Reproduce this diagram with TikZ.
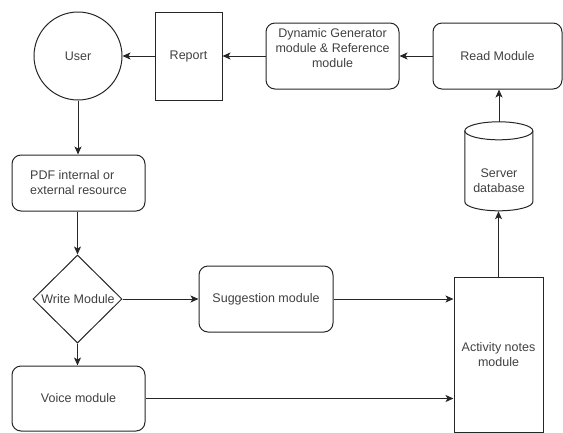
\documentclass[tikz,border=0pt]{standalone}
\usepackage{fontspec}
\setmainfont{Liberation Sans}
\usetikzlibrary{arrows.meta,shapes.geometric}
\begin{document}
\begin{tikzpicture}[x=1pt,y=-1pt,
  every node/.style={font=\fontsize{12.5}{15}\selectfont, text=black!75, inner sep=0pt},
  box/.style={draw=black!85, line width=1pt, rectangle},
  rbox/.style={box, rounded corners=9pt},
  arr/.style={draw=black!85, line width=1pt, -{Stealth[length=8pt,width=7pt,inset=2pt]}},
  ln/.style={draw=black!85, line width=1pt}]
\useasboundingbox (0,0) rectangle (563,432);
\node[draw=black!85, line width=1pt, circle, minimum size=88pt] (user) at (78,56) {User};
\node[box, minimum width=67pt, minimum height=88pt] (report) at (188.5,56) {Report};
\node[rbox, minimum width=133pt, minimum height=66pt] (dyn) at (332.5,56) {};
\node[align=center] (dyntext) at (332.5,48) {Dynamic Generator\\module \& Reference\\module};
\node[rbox, minimum width=129pt, minimum height=66pt] (read) at (497.5,56) {Read Module};
% cylinder
\node[minimum width=68pt, minimum height=89pt] (db) at (499,166.5) {};
\draw[ln, fill=white] (db.north west) ++(0,9) -- ++(0,71) arc[start angle=180, end angle=360, x radius=34, y radius=-9] -- ++(0,-71)
  arc[start angle=0, end angle=180, x radius=34, y radius=-9] -- cycle;
\draw[ln] (db.north west) ++(0,9) arc[start angle=180, end angle=360, x radius=34, y radius=-9];
\node[align=center] (dbtext) at (499,180.5) {Server\\database};
\node[rbox, minimum width=133pt, minimum height=56pt, align=left] (pdf) at (78.5,183) {PDF internal or\\external resource};
\node[draw=black!85, line width=1pt, diamond, minimum width=89pt, minimum height=88pt, aspect=1] (write) at (77.5,299) {};
\node (writetext) at (78,299) {Write Module};
\node[rbox, minimum width=134pt, minimum height=66pt] (sugg) at (266,299) {Suggestion module};
\node[box, minimum width=89pt, minimum height=155pt, align=center] (act) at (498.5,354.5) {Activity notes\\module};
\node[rbox, minimum width=133pt, minimum height=65pt] (voice) at (78.5,398.5) {Voice module};
% connectors
\draw[arr] (report.west) -- (user.east);
\draw[arr] (dyn.west) -- (report.east);
\draw[arr] (read.west) -- (dyn.east);
\draw[arr] (db.north -| read.south) ++(1.5,0) coordinate (dbtop) (dbtop) -- (dbtop |- read.south);
\draw[arr] (act.north) -- (act.north |- db.south);
\draw[arr] (user.south) -- (pdf.north -| user.south);
\draw[arr] (pdf.south -| write.north) -- (write.north);
\draw[arr] (write.south) -- (voice.north -| write.south);
\draw[arr] (write.east) -- (sugg.west);
\draw[arr] (sugg.east) -- (sugg.east -| act.west);
\draw[arr] (voice.east) -- (voice.east -| act.west);
\end{tikzpicture}
\end{document}
